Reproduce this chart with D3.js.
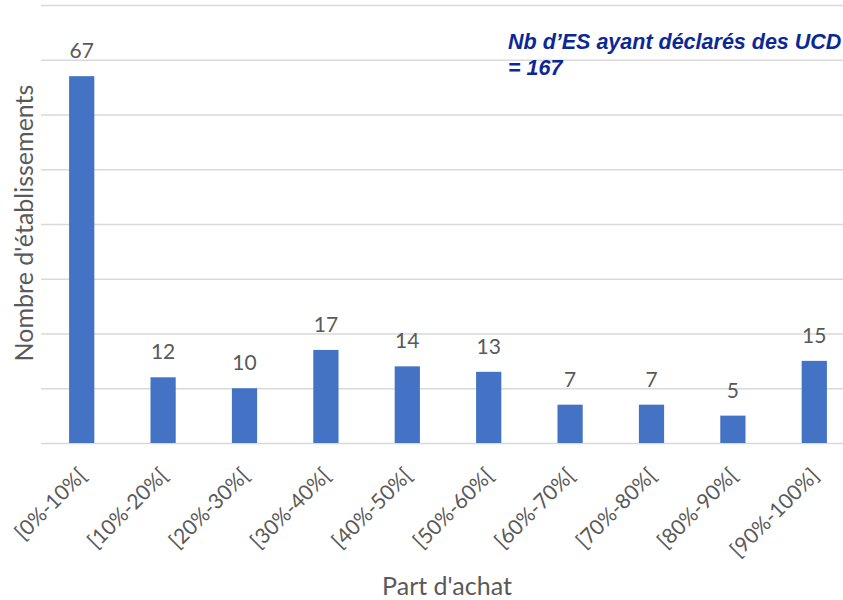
<!DOCTYPE html>
<html>
<head>
<meta charset="utf-8">
<script src="https://cdn.jsdelivr.net/npm/d3@7"></script>
<style>
  html, body { margin: 0; padding: 0; background: #fff; }
  svg { display: block; }
</style>
</head>
<body>
<svg id="chart" width="843" height="600"></svg>
<script>
// Distribution des établissements selon la part d'achat
const categories = ["[0%-10%[", "[10%-20%[", "[20%-30%[", "[30%-40%[", "[40%-50%[",
                    "[50%-60%[", "[60%-70%[", "[70%-80%[", "[80%-90%[", "[90%-100%]"];
const values = [67, 12, 10, 17, 14, 13, 7, 7, 5, 15];
const gridTicks = [0, 10, 20, 30, 40, 50, 60, 70, 80];
const yTitle = "Nombre d'établissements";
const xTitle = "Part d'achat";
const noteLines = ["Nb d’ES ayant déclarés des UCD", "= 167"];

const svg = d3.select("#chart");
const font = "Lato, 'Open Sans', sans-serif";
const textColor = "#595959";

const plot = { left: 41, right: 855, top: 5, bottom: 443 };

const x = d3.scaleBand().domain(categories).range([plot.left, plot.right]).paddingInner(0.69).paddingOuter(0.345);
const y = d3.scaleLinear().domain([0, 80]).range([plot.bottom, plot.top]);

// horizontal gridlines
const grid = d3.axisLeft(y).tickValues(gridTicks).tickSize(-(plot.right - plot.left)).tickFormat("");
svg.append("g")
  .attr("transform", `translate(${plot.left},0)`)
  .call(grid)
  .call(g => g.select(".domain").remove())
  .call(g => g.selectAll(".tick line").attr("stroke", "#d9d9d9").attr("stroke-width", 1.3));

// bars
svg.append("g").selectAll("rect")
  .data(values)
  .join("rect")
  .attr("x", (d, i) => x(categories[i]))
  .attr("y", d => y(d))
  .attr("width", x.bandwidth())
  .attr("height", d => y(0) - y(d))
  .attr("fill", "#4472C4");

// value labels
svg.append("g").selectAll("text")
  .data(values)
  .join("text")
  .attr("x", (d, i) => x(categories[i]) + x.bandwidth() / 2)
  .attr("y", d => y(d) - 18)
  .attr("text-anchor", "middle")
  .attr("font-family", font)
  .attr("font-size", 21)
  .attr("fill", textColor)
  .text(d => d);

// category axis, labels rotated
const xAxis = d3.axisBottom(x).tickSize(0).tickPadding(0);
svg.append("g")
  .attr("transform", `translate(0,${plot.bottom})`)
  .call(xAxis)
  .call(g => g.select(".domain").remove())
  .call(g => g.selectAll(".tick text")
    .attr("font-family", font)
    .attr("font-size", 21)
    .attr("fill", textColor)
    .attr("text-anchor", "end")
    .attr("dy", 0)
    .attr("y", 0)
    .attr("transform", "translate(6,34) rotate(-45)"));

// axis titles
svg.append("text")
  .attr("transform", "translate(33,223) rotate(-90)")
  .attr("text-anchor", "middle")
  .attr("font-family", font)
  .attr("font-size", 25)
  .attr("fill", textColor)
  .text(yTitle);

svg.append("text")
  .attr("x", 447)
  .attr("y", 595)
  .attr("text-anchor", "middle")
  .attr("font-family", font)
  .attr("font-size", 25)
  .attr("fill", textColor)
  .text(xTitle);

// total note
svg.append("g").selectAll("text")
  .data(noteLines)
  .join("text")
  .attr("x", 508)
  .attr("y", (d, i) => 49 + i * 26)
  .attr("font-family", "'Liberation Sans', Arial, sans-serif")
  .attr("font-size", 21.5)
  .attr("font-weight", "bold")
  .attr("font-style", "italic")
  .attr("fill", "#0a2896")
  .text(d => d);
</script>
</body>
</html>
